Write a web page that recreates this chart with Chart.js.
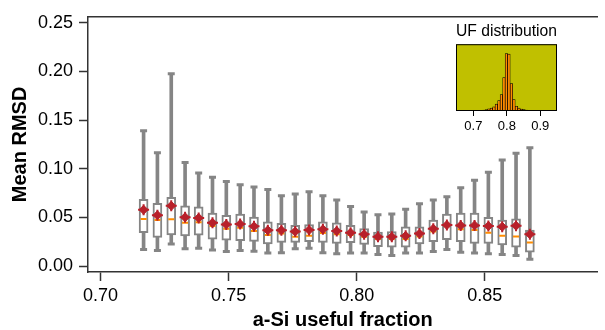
<!DOCTYPE html>
<html>
<head>
<meta charset="utf-8">
<script src="https://cdn.jsdelivr.net/npm/chart.js@4.4.1/dist/chart.umd.min.js"></script>
<style>
  body { margin: 0; background: #fff; }
  #wrap { position: relative; width: 605px; height: 330px; overflow: hidden; }
  #main { position: absolute; left: 0; top: 0; }
  #inset { position: absolute; left: 446px; top: 18px; }
</style>
</head>
<body>
<div id="wrap">
  <canvas id="main" width="605" height="330"></canvas>
  <canvas id="inset" width="122" height="122"></canvas>
</div>
<script>
// --- box plot data (a-Si useful fraction bins) ---
const fractions = [0.7168, 0.7222, 0.7276, 0.7330, 0.7383, 0.7437, 0.7491, 0.7545, 0.7599, 0.7653,
                   0.7706, 0.7760, 0.7814, 0.7868, 0.7922, 0.7976, 0.8029, 0.8083, 0.8137, 0.8191,
                   0.8245, 0.8299, 0.8352, 0.8406, 0.8460, 0.8514, 0.8568, 0.8622, 0.8676];
const whiskerLow  = [0.0171, 0.0161, 0.0228, 0.0178, 0.0184, 0.0167, 0.0151, 0.0161, 0.0154, 0.0134,
                     0.0137, 0.0178, 0.0184, 0.0137, 0.0127, 0.0134, 0.0134, 0.0120, 0.0110, 0.0134,
                     0.0134, 0.0151, 0.0171, 0.0144, 0.0134, 0.0127, 0.0120, 0.0110, 0.0070];
const q1          = [0.0344, 0.0294, 0.0321, 0.0311, 0.0318, 0.0278, 0.0268, 0.0261, 0.0254, 0.0228,
                     0.0244, 0.0244, 0.0251, 0.0244, 0.0234, 0.0241, 0.0224, 0.0201, 0.0194, 0.0194,
                     0.0228, 0.0251, 0.0271, 0.0251, 0.0234, 0.0234, 0.0218, 0.0194, 0.0144];
const medians     = [0.0485, 0.0475, 0.0482, 0.0445, 0.0452, 0.0412, 0.0385, 0.0395, 0.0361, 0.0321,
                     0.0334, 0.0301, 0.0311, 0.0341, 0.0328, 0.0321, 0.0301, 0.0278, 0.0278, 0.0278,
                     0.0304, 0.0355, 0.0412, 0.0378, 0.0371, 0.0344, 0.0311, 0.0304, 0.0244];
const q3          = [0.0686, 0.0646, 0.0706, 0.0619, 0.0609, 0.0545, 0.0522, 0.0535, 0.0505, 0.0455,
                     0.0439, 0.0418, 0.0428, 0.0455, 0.0445, 0.0418, 0.0385, 0.0351, 0.0355, 0.0405,
                     0.0405, 0.0472, 0.0535, 0.0545, 0.0545, 0.0502, 0.0472, 0.0485, 0.0371];
const whiskerHigh = [0.1389, 0.1165, 0.1975, 0.1064, 0.0957, 0.0914, 0.0870, 0.0837, 0.0813, 0.0786,
                     0.0723, 0.0740, 0.0763, 0.0723, 0.0680, 0.0612, 0.0555, 0.0529, 0.0535, 0.0585,
                     0.0640, 0.0680, 0.0713, 0.0806, 0.0881, 0.0964, 0.1091, 0.1158, 0.1215];
const means       = [0.0579, 0.0522, 0.0619, 0.0502, 0.0495, 0.0445, 0.0428, 0.0432, 0.0409, 0.0368,
                     0.0368, 0.0355, 0.0371, 0.0378, 0.0361, 0.0344, 0.0328, 0.0301, 0.0301, 0.0311,
                     0.0334, 0.0385, 0.0422, 0.0418, 0.0418, 0.0412, 0.0405, 0.0415, 0.0328];

const xTicks = [0.70, 0.75, 0.80, 0.85];
const yTicks = [0.00, 0.05, 0.10, 0.15, 0.20, 0.25];

// --- inset histogram ---
const ufBins   = [0.7163, 0.7238, 0.7313, 0.7388, 0.7463, 0.7538, 0.7613, 0.7688, 0.7763, 0.7838, 0.7913,
                  0.7988, 0.8063, 0.8138, 0.8213, 0.8288, 0.8363, 0.8438, 0.8513, 0.8588, 0.8663, 0.8738];
const ufCounts = [0.4, 0.7, 1.0, 1.5, 2.2, 3.0, 4.2, 7.0, 10.5, 16.5, 33.5,
                  57.5, 57.0, 27.5, 11.5, 4.8, 3.0, 2.0, 1.3, 0.8, 0.4, 0.2];
const ufTicks = [0.7, 0.8, 0.9];

const GREY = '#858585';
const AXIS = '#333333';
const FONT = "'Liberation Sans', Arial, sans-serif";

const pts = arr => fractions.map((x, i) => ({ x: x, y: arr[i] }));
const rng = (a, b) => fractions.map((x, i) => ({ x: x, y: [a[i], b[i]] }));

new Chart(document.getElementById('main'), {
  type: 'bar',
  data: {
    datasets: [
      { type: 'scatter', data: pts(means), order: 1, pointStyle: 'rectRot', radius: 4.5,
        backgroundColor: '#b8202a', borderColor: '#b8202a', borderWidth: 1 },
      { type: 'scatter', data: pts(means), order: 1, pointStyle: 'cross', radius: 5.5,
        borderColor: '#b8202a', borderWidth: 2 },
      { type: 'scatter', data: pts(medians), order: 2, pointStyle: 'line', radius: 3,
        borderColor: '#ff8c00', borderWidth: 2 },
      { type: 'bar', data: rng(q1, q3), order: 3, grouped: false, barThickness: 9,
        backgroundColor: '#ffffff', borderColor: GREY, borderWidth: 2, borderSkipped: false },
      { type: 'scatter', data: pts(whiskerHigh), order: 4, pointStyle: 'line', radius: 3.5,
        borderColor: GREY, borderWidth: 3 },
      { type: 'scatter', data: pts(whiskerLow), order: 4, pointStyle: 'line', radius: 3.5,
        borderColor: GREY, borderWidth: 3 },
      { type: 'bar', data: rng(whiskerLow, whiskerHigh), order: 5, grouped: false, barThickness: 3,
        backgroundColor: GREY, borderWidth: 0 }
    ]
  },
  options: {
    responsive: false,
    animation: false,
    layout: { padding: { top: 11, left: 0, right: 0, bottom: 0 } },
    plugins: { legend: { display: false }, tooltip: { enabled: false } },
    scales: {
      x: {
        type: 'linear', position: 'bottom', offset: false,
        min: 0.6951, max: 0.894,
        afterBuildTicks: s => { s.ticks = xTicks.map(v => ({ value: v })); },
        afterFit: s => { s.height = 58; },
        ticks: { color: '#000', font: { family: FONT, size: 18 }, padding: 4,
                 callback: v => v.toFixed(2) },
        grid: { offset: false, drawOnChartArea: false, tickLength: 9, tickColor: AXIS, tickWidth: 1.5 },
        border: { color: AXIS, width: 1.5 },
        title: { display: true, text: 'a-Si useful fraction', color: '#000',
                 font: { family: FONT, size: 20, weight: 'bold', lineHeight: 1 }, padding: 0 }
      },
      xTop: {
        type: 'linear', position: 'top',
        afterFit: s => { s.height = 0; },
        ticks: { display: false },
        grid: { display: false },
        border: { color: AXIS, width: 1.5 }
      },
      y: {
        type: 'linear', position: 'left',
        min: -0.006, max: 0.256,
        afterBuildTicks: s => { s.ticks = yTicks.map(v => ({ value: v })); },
        afterFit: s => { s.width = 88; },
        ticks: { color: '#000', font: { family: FONT, size: 18 }, padding: 6,
                 callback: v => v.toFixed(2) },
        grid: { drawOnChartArea: false, tickLength: 9, tickColor: AXIS, tickWidth: 1.5 },
        border: { color: AXIS, width: 1.5 },
        title: { display: true, text: 'Mean RMSD', color: '#000',
                 font: { family: FONT, size: 20, weight: 'bold', lineHeight: 1 }, padding: { top: 10 } }
      }
    }
  }
});

// olive panel + black frame for the inset
const insetFrame = {
  id: 'insetFrame',
  beforeDatasetsDraw(chart) {
    const a = chart.chartArea, ctx = chart.ctx;
    ctx.save();
    ctx.fillStyle = '#c0c000';
    ctx.fillRect(a.left, a.top, a.right - a.left, a.bottom - a.top);
    ctx.restore();
  },
  afterDatasetsDraw(chart) {
    const a = chart.chartArea, ctx = chart.ctx;
    ctx.save();
    ctx.strokeStyle = '#000';
    ctx.lineWidth = 1;
    ctx.strokeRect(a.left + 0.5, a.top + 0.5, a.right - a.left - 1, a.bottom - a.top - 1);
    ctx.restore();
  }
};

new Chart(document.getElementById('inset'), {
  type: 'bar',
  data: {
    datasets: [{
      data: ufBins.map((x, i) => ({ x: x, y: ufCounts[i] })),
      backgroundColor: '#ff8c00', borderColor: '#000', borderWidth: 0.7,
      barPercentage: 1, categoryPercentage: 1
    }]
  },
  plugins: [insetFrame],
  options: {
    responsive: false,
    animation: false,
    layout: { padding: { left: 10, right: 11, top: 0, bottom: 0 } },
    plugins: {
      legend: { display: false }, tooltip: { enabled: false },
      title: { display: true, text: 'UF distribution', color: '#000',
               font: { family: FONT, size: 16, weight: 'normal', lineHeight: 1.2 },
               padding: { top: 4, bottom: 3 } }
    },
    scales: {
      x: {
        type: 'linear', offset: false, min: 0.648, max: 0.95,
        afterBuildTicks: s => { s.ticks = ufTicks.map(v => ({ value: v })); },
        afterFit: s => { s.height = 29; },
        ticks: { color: '#000', font: { family: FONT, size: 13 }, padding: 3,
                 callback: v => v.toFixed(1) },
        grid: { offset: false, drawOnChartArea: false, tickLength: 5, tickColor: '#000', tickWidth: 1 },
        border: { display: false }
      },
      y: { display: false, min: 0, max: 67 }
    }
  }
});
</script>
</body>
</html>
